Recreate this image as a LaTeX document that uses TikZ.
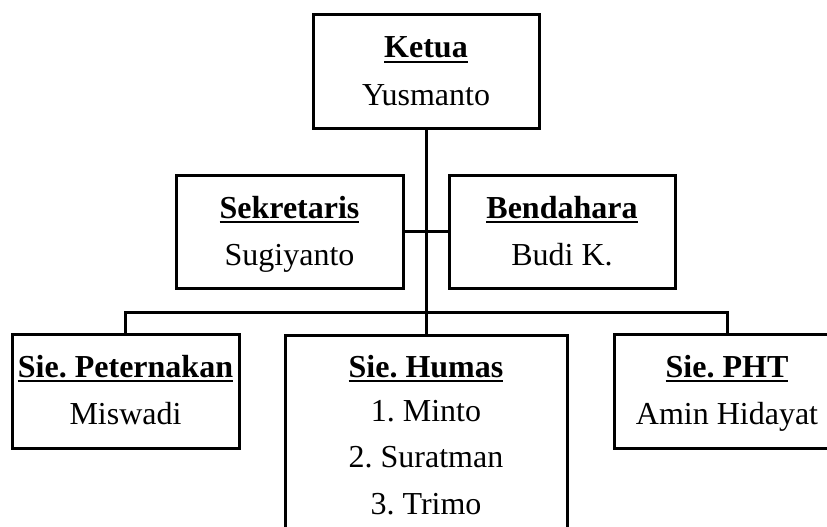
\documentclass[tikz,border=0pt]{standalone}
\usepackage{fontspec}
\setmainfont{Liberation Serif}
\frenchspacing
\newcommand\myul[1]{{\setbox0\hbox{#1}\rlap{\rule[-5pt]{\wd0}{2.4pt}}\box0}}
\begin{document}
\begin{tikzpicture}[x=1pt,y=-1pt,
  box/.style={draw=black,line width=3pt,fill=white,inner sep=0pt},
  lbl/.style={anchor=base,inner sep=0pt,font=\fontsize{32}{46}\selectfont},
  ttl/.style={lbl,font=\fontsize{32}{46}\selectfont\bfseries},
  conn/.style={draw=black,line width=3pt}]
\useasboundingbox (0,0) rectangle (827,527);
\clip (0,0) rectangle (827,527);
% boxes
\node[box,minimum width=226pt,minimum height=113pt] (ketua) at (426,71.5) {};
\node[box,minimum width=227pt,minimum height=113pt] (sek) at (289.5,231.5) {};
\node[box,minimum width=226pt,minimum height=113pt] (ben) at (562,231.5) {};
\node[box,minimum width=227pt,minimum height=114pt] (pet) at (125.5,391.5) {};
\node[box,minimum width=282pt,minimum height=230pt] (hum) at (426,450) {};
\node[box,minimum width=226pt,minimum height=114pt] (pht) at (727,391.5) {};
% connectors
\coordinate (j1) at (ketua.south |- 0,312);
\coordinate (jl) at (pet.north |- 0,312);
\coordinate (jr) at (pht.north |- 0,312);
\path[conn] (ketua.south) -- (j1) -- (hum.north);
\path[conn] (sek.east) -- (ben.west);
\path[conn] (pet.north) -- (jl) -- (jr) -- (pht.north);
% texts
\node[ttl] (t1) at (426,58) {\myul{Ketua}};
\node[lbl] (n1) at (426,105) {Yusmanto};
\node[ttl] (t2) at (289.5,218) {\myul{Sekretaris}};
\node[lbl] (n2) at (289.5,265) {Sugiyanto};
\node[ttl] (t3) at (562,218) {\myul{Bendahara}};
\node[lbl] (n3) at (562,265) {Budi K.};
\node[ttl] (t4) at (125.5,377) {\myul{Sie. Peternakan}};
\node[lbl] (n4) at (125.5,424) {Miswadi};
\node[ttl] (t5) at (426,377) {\myul{Sie. Humas}};
\node[lbl] (n5a) at (426,421) {1. Minto};
\node[lbl] (n5b) at (426,467) {2. Suratman};
\node[lbl] (n5c) at (426,514) {3. Trimo};
\node[ttl] (t6) at (727,377) {\myul{Sie. PHT}};
\node[lbl] (n6) at (727,424) {Amin Hidayat};
\end{tikzpicture}
\end{document}
